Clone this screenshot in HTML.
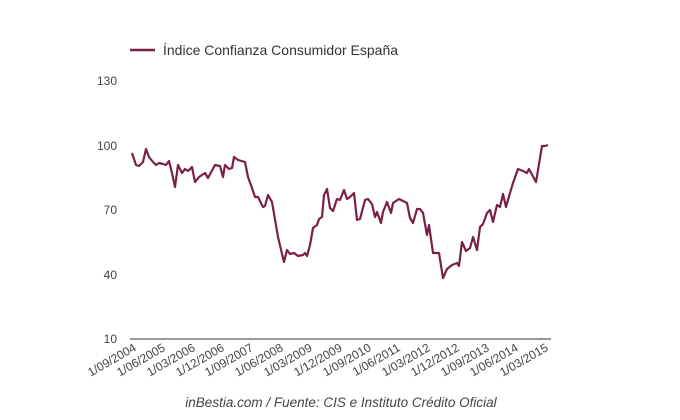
<!DOCTYPE html>
<html><head><meta charset="utf-8"><style>
html,body{margin:0;padding:0;background:#fff;}
svg{display:block;font-family:"Liberation Sans",Arial,sans-serif;}
</style></head><body>
<svg width="680" height="420" viewBox="0 0 680 420" xmlns="http://www.w3.org/2000/svg">
<rect width="680" height="420" fill="#fff"/>
<line x1="130" y1="50" x2="155" y2="50" stroke="#7a1f48" stroke-width="2.5"/>
<text x="163" y="55" font-size="14" fill="#333">Índice Confianza Consumidor España</text>
<g font-size="12" fill="#444" text-anchor="end">
<text x="117" y="85">130</text>
<text x="117" y="150">100</text>
<text x="117" y="214">70</text>
<text x="117" y="279">40</text>
<text x="117" y="343">10</text>
</g>
<line x1="130" y1="339" x2="551" y2="339" stroke="#777" stroke-width="1.5"/>
<polyline fill="none" stroke="#7a1f48" stroke-width="2.2" stroke-linejoin="round" points="132,153 136,165 139,166 143,162 146,149 149,157 153,162 156,165 159,163 163,164 166,165 169,161 172,173 175,187 178,165 182,173 185,169 188,171 192,167 195,182 199,177 205,173 208,178 215,165 220,166 223,177 225,165 229,169 232,168 234,157 238,160 245,162 248,177 252,188 255,197 258,197 263,207 265,206 268,195 272,202 278,237 284,262 287,250 290,254 294,253 298,256 303,255 305,253 307,256 310,245 313,228 317,225 319,219 322,217 324,195 327,189 330,208 333,211 337,199 340,200 344,190 347,199 350,197 354,193 357,220 360,219 365,200 368,199 372,204 375,217 377,212 381,223 383,212 387,202 391,213 393,203 399,199 405,202 407,203 410,218 413,223 417,209 420,209 423,213 427,235 429,225 433,253 439,253 443,278 447,269 452,265 457,263 459,266 462,242 466,251 470,248 473,237 477,250 480,227 483,224 487,213 490,210 493,222 497,205 500,207 503,194 506,207 510,193 513,183 518,169 523,171 527,173 529,169 536,182 542,146 545,146 548,145"/>
<g font-size="12" fill="#444" text-anchor="end">
<text transform="translate(137,350) rotate(-30)">1/09/2004</text>
<text transform="translate(166,350) rotate(-30)">1/06/2005</text>
<text transform="translate(196,350) rotate(-30)">1/03/2006</text>
<text transform="translate(225,350) rotate(-30)">1/12/2006</text>
<text transform="translate(254,350) rotate(-30)">1/09/2007</text>
<text transform="translate(284,350) rotate(-30)">1/06/2008</text>
<text transform="translate(313,350) rotate(-30)">1/03/2009</text>
<text transform="translate(343,350) rotate(-30)">1/12/2009</text>
<text transform="translate(372,350) rotate(-30)">1/09/2010</text>
<text transform="translate(401,350) rotate(-30)">1/06/2011</text>
<text transform="translate(431,350) rotate(-30)">1/03/2012</text>
<text transform="translate(460,350) rotate(-30)">1/12/2012</text>
<text transform="translate(490,350) rotate(-30)">1/09/2013</text>
<text transform="translate(519,350) rotate(-30)">1/06/2014</text>
<text transform="translate(549,350) rotate(-30)">1/03/2015</text>
</g>
<text x="341" y="407" font-size="13.5" font-style="italic" fill="#444" text-anchor="middle">inBestia.com / Fuente: CIS e Instituto Crédito Oficial</text>
</svg>
</body></html>
